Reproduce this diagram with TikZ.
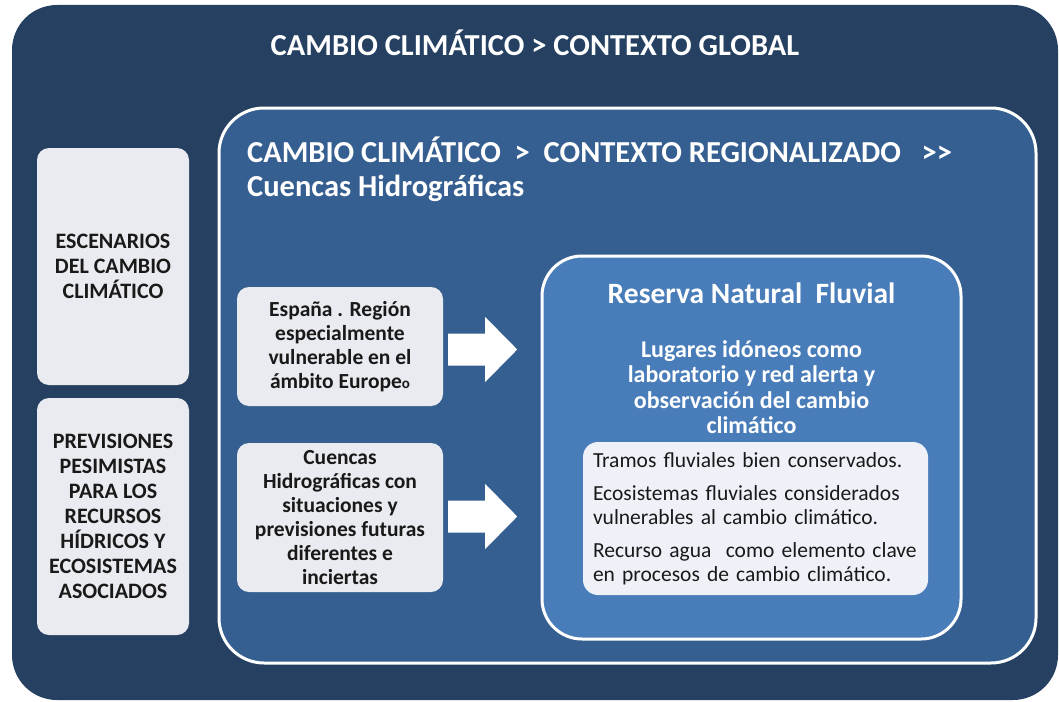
\documentclass[tikz,border=0pt]{standalone}
\usepackage{fontspec}
\setmainfont{Carlito}
\usetikzlibrary{positioning,calc}

\definecolor{fondo}{RGB}{38,64,97}
\definecolor{marco}{RGB}{54,95,145}
\definecolor{reserva}{RGB}{73,125,186}
\definecolor{cajagris}{RGB}{233,235,240}
\definecolor{cajaclara}{RGB}{238,241,247}
\definecolor{texto}{RGB}{25,25,25}

\tikzset{
  titulo/.style={text=white, font=\bfseries\fontsize{30.5}{35}\selectfont, inner sep=0pt},
  lateral/.style={fill=cajagris, rounded corners=12pt, text=texto, align=center,
    font=\bfseries\fontsize{22}{25}\selectfont, minimum width=152pt, minimum height=237pt, inner sep=0pt},
  cuadro/.style={fill=cajagris, rounded corners=12pt, text=texto, align=center,
    font=\bfseries\fontsize{21.5}{24}\selectfont, minimum width=206pt, inner sep=0pt},
  flecha/.style={fill=white}
}

\begin{document}
\begin{tikzpicture}[x=1pt,y=-1pt]
  % 画布大小(与参考图相同)
  \useasboundingbox (0,0) rectangle (1059,701);

  % 外框:全球背景
  \node[fill=fondo, rounded corners=45pt, minimum width=1046pt, minimum height=695pt] (global) at (535,352.5) {};
  \node[titulo, anchor=base] (tglobal) at (535,56) {CAMBIO CLIMÁTICO > CONTEXTO GLOBAL};

  % 左侧两个方框
  \node[lateral] (escenarios) at (113,266.5) {ESCENARIOS\\DEL CAMBIO\\CLIMÁTICO};
  \node[lateral] (previsiones) at (113,516.5) {PREVISIONES\\PESIMISTAS\\PARA LOS\\RECURSOS\\HÍDRICOS Y\\ECOSISTEMAS\\ASOCIADOS};

  % 中框:区域背景(白色边框)
  \node[fill=marco, draw=white, line width=3pt, rounded corners=45pt, minimum width=817pt, minimum height=555pt] (regional) at (627.5,385.5) {};
  \node[titulo, anchor=base west] (tregional) at (247,162) {CAMBIO CLIMÁTICO\ \ >\ \ CONTEXTO REGIONALIZADO\ \ \ {>}{>}};
  \node[titulo, anchor=base west] (tcuencas) at ($(tregional.base west)+(0,34)$) {Cuencas Hidrográficas};

  % 中间两个方框
  \node[cuadro, minimum height=119pt] (espana) at (340,346.5) {España . Región\\especialmente\\vulnerable en el\\ámbito Europe{\fontsize{15}{15}\selectfont o}};
  \node[cuadro, minimum height=149pt] (cuencas) at (340,517.5) {Cuencas\\Hidrográficas con\\situaciones y\\previsiones futuras\\diferentes e\\inciertas};

  % 内框:河流自然保护区
  \node[fill=reserva, draw=white, line width=3pt, rounded corners=40pt, minimum width=419pt, minimum height=383pt] (rnf) at (751.5,447.5) {};
  \node[titulo, font=\bfseries\fontsize{29.5}{34}\selectfont, anchor=base] (trnf) at (751.5,303) {Reserva Natural\ \ Fluvial};
  \node[text=white, align=center, font=\bfseries\fontsize{24}{25.5}\selectfont, inner sep=0pt] (lugares) at (751.5,387) {Lugares idóneos como\\laboratorio y red alerta y\\observación del cambio\\climático};

  % 浅色说明框
  \node[fill=cajaclara, rounded corners=15pt, text=texto, align=left, text width=325pt, inner sep=10pt,
        minimum height=153pt, font=\fontsize{21.5}{24}\selectfont] (tramos) at (755.5,518.5)
        {Tramos fluviales bien conservados.\\[9pt]
         Ecosistemas fluviales considerados\\vulnerables\ al cambio climático.\\[9pt]
         Recurso agua\ \ como elemento clave\\en procesos de cambio climático.};

  % 白色箭头(从中间方框指向保护区)
  \fill[flecha] ($(espana.east)+(5,-13)$) -- ++(37,0) -- ++(0,-16.5) -- ++(32,32.5)
     -- ++(-32,32.5) -- ++(0,-16.5) -- ++(-37,0) -- cycle;
  \fill[flecha] ($(cuencas.east)+(5,-17)$) -- ++(37,0) -- ++(0,-16.5) -- ++(32,32.5)
     -- ++(-32,32.5) -- ++(0,-16.5) -- ++(-37,0) -- cycle;
\end{tikzpicture}
\end{document}
